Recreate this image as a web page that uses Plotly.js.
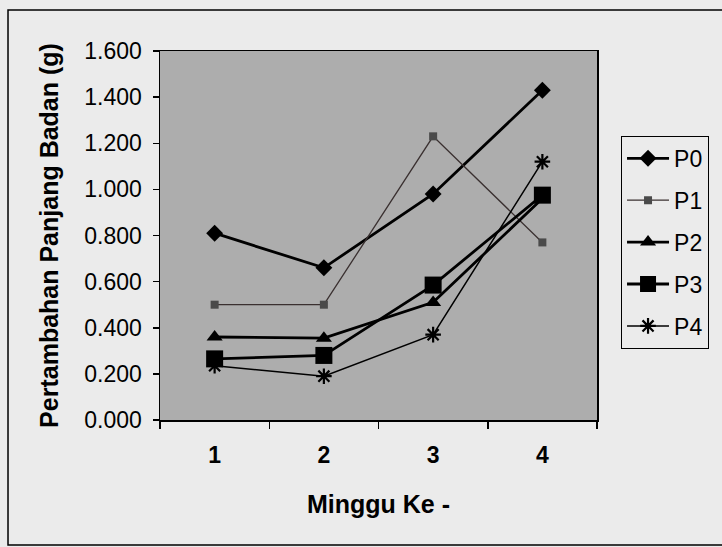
<!DOCTYPE html>
<html>
<head>
<meta charset="utf-8">
<script src="https://cdn.plot.ly/plotly-3.0.1.min.js"></script>
<style>html,body{margin:0;padding:0;background:#ebebeb;}#chart{width:722px;height:547px;}</style>
</head>
<body>
<div id="chart"></div>
<script>
var weeks = ['1', '2', '3', '4'];
var seriesNames = ['P0', 'P1', 'P2', 'P3', 'P4'];
var P0 = [0.81, 0.66, 0.98, 1.43];
var P1 = [0.50, 0.50, 1.23, 0.77];
var P2 = [0.36, 0.355, 0.51, 0.96];
var P3 = [0.265, 0.28, 0.585, 0.975];
var P4 = [0.235, 0.19, 0.37, 1.12];
var yTicks = [0, 0.2, 0.4, 0.6, 0.8, 1.0, 1.2, 1.4, 1.6];

var styles = [
  {line: {color: '#000', width: 2.8}, marker: {symbol: 'diamond', size: 13, color: '#000'}},
  {line: {color: '#3a3030', width: 1.3}, marker: {symbol: 'square', size: 8, color: '#4a4a4a'}},
  {line: {color: '#000', width: 2.8}, marker: {symbol: 'triangle-up', size: 14, color: '#000'}},
  {line: {color: '#000', width: 2.8}, marker: {symbol: 'square', size: 17, color: '#000'}},
  {line: {color: '#000', width: 1.5}, marker: {symbol: 'asterisk-open', size: 13, color: '#000', line: {width: 2.2, color: '#000'}}}
];
var values = [P0, P1, P2, P3, P4];
var traces = values.map(function (v, i) {
  return {
    x: weeks, y: v, name: seriesNames[i], legendgroup: seriesNames[i],
    type: 'scatter', mode: 'lines+markers',
    line: styles[i].line, marker: styles[i].marker
  };
});

var layout = {
  width: 722, height: 547,
  margin: {l: 160, r: 125, t: 51, b: 127},
  paper_bgcolor: '#ebebeb',
  plot_bgcolor: '#adadad',
  font: {family: 'Arial, Liberation Sans, sans-serif', color: '#000'},
  showlegend: true,
  legend: {
    x: 1.055, y: 0.77, xanchor: 'left', yanchor: 'top',
    bgcolor: 'rgba(0,0,0,0)', bordercolor: '#000', borderwidth: 1,
    font: {size: 23, color: '#000'}, tracegroupgap: 9, itemwidth: 42
  },
  xaxis: {
    type: 'category', range: [-0.5, 3.5], tickson: 'boundaries',
    ticks: 'outside', ticklen: 7, tickcolor: '#000', tickwidth: 1.5,
    showgrid: false, zeroline: false, showline: true, linecolor: '#000', linewidth: 1.5, mirror: true,
    tickfont: {size: 23, weight: 'bold'}, ticklabelstandoff: 14,
    title: {text: 'Minggu Ke -', font: {size: 25, weight: 'bold'}, standoff: 28}
  },
  yaxis: {
    range: [0, 1.6], tickvals: yTicks, tickformat: '.3f',
    ticks: 'outside', ticklen: 6, tickcolor: '#000', tickwidth: 1.5,
    showgrid: false, zeroline: false, showline: true, linecolor: '#000', linewidth: 1.5, mirror: true,
    tickfont: {size: 23}, ticklabelstandoff: 6,
    title: {text: 'Pertambahan Panjang Badan (g)', font: {size: 25, weight: 'bold'}, standoff: 18}
  },
  shapes: [{
    type: 'rect', xref: 'paper', yref: 'paper',
    x0: -0.3478, x1: 1.30, y0: -0.3388, y1: 1.111,
    line: {color: '#000', width: 1.5}, fillcolor: 'rgba(0,0,0,0)', layer: 'below'
  }]
};
Plotly.newPlot('chart', traces, layout, {displayModeBar: false, staticPlot: true});
</script>
</body>
</html>
